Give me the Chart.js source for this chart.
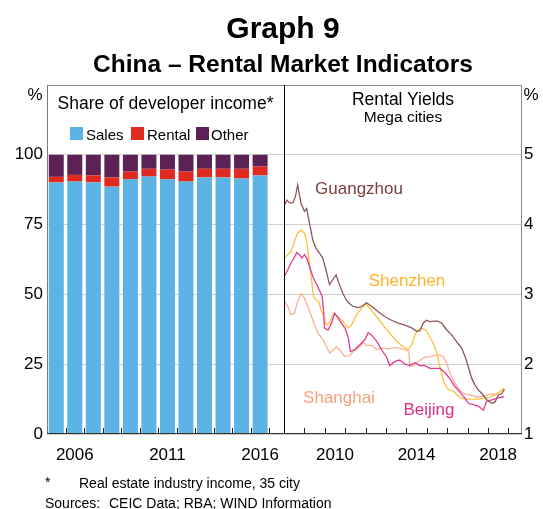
<!DOCTYPE html>
<html><head><meta charset="utf-8">
<script src="https://cdn.jsdelivr.net/npm/chart.js@4/dist/chart.umd.min.js"></script>
<style>
html,body{margin:0;padding:0;background:#fff;}
#wrap{position:relative;width:543px;height:509px;overflow:hidden;font-family:"Liberation Sans",Arial,sans-serif;color:#000;}
canvas{position:absolute;left:0;top:0;}
.t{position:absolute;white-space:nowrap;line-height:1;transform:translate(-50%,-50%);}
.l{position:absolute;white-space:nowrap;line-height:1;transform:translateY(-50%);}
.sq{position:absolute;width:13px;height:13px;}
</style></head>
<body><div id="wrap">
<canvas id="c1" width="543" height="509"></canvas>
<canvas id="c2" width="543" height="509"></canvas>
<div class="t" style="left:283px;top:28px;font-size:30px;font-weight:bold">Graph 9</div>
<div class="t" style="left:283px;top:64px;font-size:24.5px;font-weight:bold">China – Rental Market Indicators</div>
<div class="t" style="left:35px;top:94px;font-size:17px">%</div>
<div class="t" style="left:531px;top:94px;font-size:17px">%</div>
<div class="t" style="left:165.5px;top:103.5px;font-size:17.5px">Share of developer income*</div>
<div class="sq" style="left:70px;top:127px;background:#5bb4e4"></div>
<div class="l" style="left:86px;top:133.5px;font-size:15px">Sales</div>
<div class="sq" style="left:131px;top:127px;background:#e02a20"></div>
<div class="l" style="left:147px;top:133.5px;font-size:15px">Rental</div>
<div class="sq" style="left:196px;top:127px;background:#5c2256"></div>
<div class="l" style="left:211px;top:133.5px;font-size:15px">Other</div>
<div class="t" style="left:403px;top:100px;font-size:17.5px">Rental Yields</div>
<div class="t" style="left:403px;top:116.5px;font-size:15.5px">Mega cities</div>
<div class="t" style="left:359px;top:187.5px;font-size:17px;color:#7d3c3c">Guangzhou</div>
<div class="t" style="left:407px;top:280px;font-size:17px;color:#fdb42a">Shenzhen</div>
<div class="t" style="left:339px;top:397px;font-size:17px;color:#f8a07c">Shanghai</div>
<div class="t" style="left:429px;top:409px;font-size:17px;color:#dc2f87">Beijing</div>
<div class="l" style="left:45px;top:482px;font-size:14px">*</div>
<div class="l" style="left:79px;top:483px;font-size:14px">Real estate industry income, 35 city</div>
<div class="l" style="left:45px;top:503px;font-size:14px">Sources:</div>
<div class="l" style="left:109px;top:503px;font-size:14px">CEIC Data; RBA; WIND Information</div>
</div>
<script>
// ---- Left panel: share of developer income (%) ----
const years = [2005,2006,2007,2008,2009,2010,2011,2012,2013,2014,2015,2016];
const sales = [90.1,90.4,90.1,88.6,91.2,92.2,91.2,90.4,91.9,91.9,91.5,92.6];
const rental = [2.0,2.4,2.5,3.3,2.8,2.8,3.5,3.6,3.1,3.1,3.5,3.2];
const other = [7.9,7.2,7.4,8.1,6.0,5.0,5.3,6.0,5.0,5.0,5.0,4.2];
const incomeTickLabels = ['2006','2011','2016'];
const incomeYTicks = [0,25,50,75,100];

// ---- Right panel: rental yields, mega cities (%) [decimal year, value] ----
const guangzhou = [[2008.02,4.28],[2008.13,4.35],[2008.27,4.31],[2008.43,4.31],[2008.56,4.40],[2008.67,4.57],[2008.83,4.31],[2009.00,4.19],[2009.11,4.23],[2009.25,4.02],[2009.41,3.78],[2009.57,3.66],[2009.74,3.59],[2009.90,3.52],[2010.06,3.35],[2010.23,3.14],[2010.39,3.21],[2010.55,3.28],[2010.72,3.14],[2010.88,3.02],[2011.05,2.92],[2011.21,2.87],[2011.37,2.83],[2011.62,2.81],[2011.83,2.83],[2012.05,2.88],[2012.29,2.83],[2012.62,2.75],[2012.95,2.68],[2013.27,2.63],[2013.60,2.59],[2013.93,2.56],[2014.26,2.52],[2014.50,2.47],[2014.67,2.48],[2014.83,2.59],[2014.99,2.63],[2015.16,2.61],[2015.49,2.62],[2015.73,2.59],[2015.98,2.49],[2016.22,2.42],[2016.47,2.32],[2016.71,2.23],[2016.88,2.11],[2017.04,1.96],[2017.20,1.80],[2017.37,1.70],[2017.53,1.63],[2017.70,1.58],[2017.94,1.49],[2018.19,1.44],[2018.35,1.46],[2018.51,1.56],[2018.68,1.58],[2018.81,1.64]];
const shenzhen = [[2008.02,3.52],[2008.18,3.57],[2008.34,3.61],[2008.51,3.76],[2008.67,3.88],[2008.83,3.92],[2009.00,3.88],[2009.11,3.76],[2009.21,3.54],[2009.33,3.26],[2009.44,2.97],[2009.57,2.92],[2009.70,2.90],[2009.82,2.78],[2009.94,2.68],[2010.08,2.56],[2010.23,2.59],[2010.44,2.73],[2010.65,2.68],[2010.90,2.61],[2011.14,2.52],[2011.31,2.56],[2011.56,2.71],[2011.80,2.80],[2012.01,2.87],[2012.21,2.80],[2012.54,2.68],[2012.86,2.56],[2013.19,2.44],[2013.52,2.33],[2013.84,2.25],[2014.09,2.21],[2014.26,2.28],[2014.42,2.42],[2014.58,2.49],[2014.75,2.52],[2014.99,2.48],[2015.16,2.39],[2015.32,2.30],[2015.49,2.16],[2015.65,1.96],[2015.81,1.77],[2015.98,1.66],[2016.14,1.63],[2016.30,1.62],[2016.47,1.56],[2016.71,1.51],[2016.96,1.50],[2017.28,1.50],[2017.61,1.50],[2017.86,1.51],[2018.10,1.53],[2018.35,1.56],[2018.60,1.61],[2018.79,1.65]];
const beijing = [[2008.02,3.26],[2008.18,3.35],[2008.34,3.45],[2008.51,3.53],[2008.62,3.60],[2008.76,3.57],[2008.88,3.52],[2009.00,3.57],[2009.11,3.52],[2009.25,3.40],[2009.41,3.26],[2009.57,3.16],[2009.74,3.06],[2009.87,2.97],[2009.94,2.78],[2009.98,2.52],[2010.16,2.49],[2010.33,2.59],[2010.49,2.73],[2010.65,2.66],[2010.82,2.59],[2010.98,2.52],[2011.14,2.39],[2011.26,2.18],[2011.47,2.21],[2011.72,2.28],[2011.96,2.35],[2012.13,2.45],[2012.29,2.42],[2012.54,2.33],[2012.78,2.21],[2013.03,2.10],[2013.19,1.98],[2013.44,2.04],[2013.68,2.06],[2013.93,2.00],[2014.17,1.98],[2014.42,2.02],[2014.67,1.98],[2014.91,1.98],[2015.16,1.94],[2015.40,1.94],[2015.65,1.94],[2015.89,1.88],[2016.14,1.79],[2016.38,1.68],[2016.63,1.60],[2016.88,1.51],[2017.04,1.44],[2017.28,1.42],[2017.53,1.40],[2017.77,1.34],[2017.94,1.47],[2018.19,1.49],[2018.43,1.51],[2018.68,1.53],[2018.79,1.53]];
const shanghai = [[2008.02,2.90],[2008.18,2.83],[2008.34,2.71],[2008.51,2.73],[2008.67,2.90],[2008.83,3.01],[2009.00,2.95],[2009.16,2.83],[2009.33,2.70],[2009.49,2.57],[2009.67,2.44],[2009.92,2.35],[2010.08,2.25],[2010.24,2.16],[2010.41,2.20],[2010.57,2.25],[2010.74,2.20],[2010.98,2.11],[2011.23,2.13],[2011.47,2.20],[2011.72,2.25],[2011.88,2.31],[2012.05,2.27],[2012.29,2.27],[2012.54,2.21],[2012.78,2.23],[2013.11,2.22],[2013.44,2.24],[2013.77,2.22],[2014.01,2.20],[2014.12,2.18],[2014.17,1.97],[2014.34,1.98],[2014.58,2.04],[2014.91,2.10],[2015.24,2.11],[2015.40,2.13],[2015.65,2.13],[2015.81,2.11],[2015.98,2.01],[2016.14,1.87],[2016.38,1.73],[2016.63,1.62],[2016.88,1.57],[2017.12,1.56],[2017.45,1.53],[2017.77,1.54],[2018.10,1.57],[2018.43,1.57],[2018.68,1.63],[2018.79,1.65]];
const yieldTickLabels = ['2010','2014','2018'];
const yieldYTicks = [1,2,3,4,5];

const FONT = {family:'"Liberation Sans", Arial, sans-serif', size:17};
Chart.defaults.color = '#000';

const framePlugin = {
  id: 'frame',
  afterDraw(chart, args, opts) {
    const {ctx, chartArea: a} = chart;
    const xs = chart.scales.x;
    ctx.save();
    ctx.lineWidth = 1;
    const line = (x1,y1,x2,y2,c) => { ctx.strokeStyle=c; ctx.beginPath(); ctx.moveTo(x1,y1); ctx.lineTo(x2,y2); ctx.stroke(); };
    line(a.left, a.top+0.5, a.right, a.top+0.5, '#8c8c8c');
    if (opts.side === 'left') line(a.left+0.5, a.top, a.left+0.5, a.bottom, '#7a7a7a');
    if (opts.side === 'right') line(a.right-0.5, a.top, a.right-0.5, a.bottom, '#8c8c8c');
    if (opts.divider) line(a.left+0.5, a.top, a.left+0.5, a.bottom, '#000');
    for (const v of opts.marks) {
      const px = Math.round(xs.getPixelForValue(v)) + 0.5;
      line(px, a.bottom, px, a.bottom-6, '#222');
    }
    line(a.left, a.bottom-0.5, a.right, a.bottom-0.5, '#333');
    ctx.restore();
  }
};

const xy = (xsArr, ysArr) => xsArr.map((x,i) => ({x, y: ysArr[i]}));
const pairs = arr => arr.map(p => ({x:p[0], y:p[1]}));

new Chart(document.getElementById('c1'), {
  type: 'bar',
  data: {
    datasets: [
      {label:'Sales', data: xy(years, sales), backgroundColor:'#5bb4e4'},
      {label:'Rental', data: xy(years, rental), backgroundColor:'#e02a20'},
      {label:'Other', data: xy(years, other), backgroundColor:'#5c2256'}
    ]
  },
  options: {
    responsive:false, animation:false, devicePixelRatio:1,
    layout:{padding:{left:0,right:259,top:85,bottom:0}},
    plugins:{legend:{display:false}, tooltip:{enabled:false},
      frame:{side:'left', divider:false, marks: years.map(y => y + 0.5)}},
    datasets:{bar:{barPercentage:0.81, categoryPercentage:1, borderWidth:0}},
    scales:{
      x:{type:'linear', stacked:true, offset:false, min:2004.5, max:2017.29,
        grid:{display:false}, border:{display:false},
        afterBuildTicks: s => { s.ticks = incomeTickLabels.map(l => ({value:+l})); },
        ticks:{font:FONT, color:'#000', padding:3, autoSkip:false, maxRotation:0, callback: v => String(v)},
        afterFit: s => { s.height = 75; }},
      y:{type:'linear', stacked:true, min:0, max:125,
        grid:{color:'#cfcfcf', drawTicks:false}, border:{display:false},
        ticks:{stepSize:25, font:FONT, color:'#000', padding:4,
          callback: v => incomeYTicks.includes(v) ? String(v) : ''},
        afterFit: s => { s.width = 47; }}
    }
  },
  plugins:[framePlugin]
});

const lineDs = (label, arr, color) => ({label, data: pairs(arr), borderColor: color, borderWidth:1.3, pointRadius:0, tension:0, fill:false});

new Chart(document.getElementById('c2'), {
  type: 'line',
  data: {
    datasets: [
      lineDs('Guangzhou', guangzhou, '#8e5858'),
      lineDs('Beijing', beijing, '#e33a93'),
      lineDs('Shenzhen', shenzhen, '#ffbf3f'),
      lineDs('Shanghai', shanghai, '#f9b096')
    ]
  },
  options: {
    responsive:false, animation:false, devicePixelRatio:1,
    layout:{padding:{left:284,right:0,top:85,bottom:0}},
    plugins:{legend:{display:false}, tooltip:{enabled:false},
      frame:{side:'right', divider:true, marks:[2009,2010,2011,2012,2013,2014,2015,2016,2017,2018,2019]}},
    scales:{
      x:{type:'linear', offset:false, min:2008, max:2019.67,
        grid:{display:false}, border:{display:false},
        afterBuildTicks: s => { s.ticks = yieldTickLabels.map(l => ({value:+l + 0.5})); },
        ticks:{font:FONT, color:'#000', padding:3, autoSkip:false, maxRotation:0, callback: v => String(Math.floor(v))},
        afterFit: s => { s.height = 75; }},
      y:{type:'linear', position:'right', min:1, max:6,
        grid:{color:'#cfcfcf', drawTicks:false}, border:{display:false},
        ticks:{stepSize:1, font:FONT, color:'#000', padding:2,
          callback: v => yieldYTicks.includes(v) ? String(v) : ''},
        afterFit: s => { s.width = 21; }}
    }
  },
  plugins:[framePlugin]
});
</script>
</body></html>
